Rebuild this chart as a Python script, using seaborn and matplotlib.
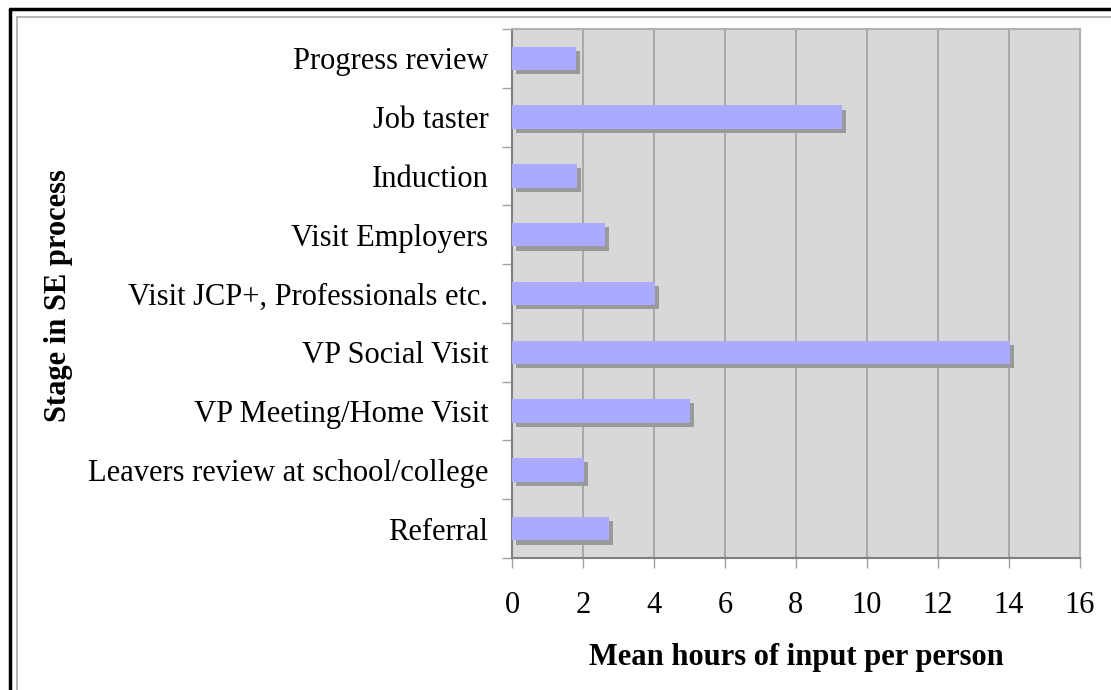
import pandas as pd
import matplotlib
matplotlib.use("Agg")
import matplotlib.pyplot as plt
import matplotlib.patheffects as pe
from matplotlib.lines import Line2D
import seaborn as sns

# Data
stages = [
    "Progress review",
    "Job taster",
    "Induction",
    "Visit Employers",
    "Visit JCP+, Professionals etc.",
    "VP Social Visit",
    "VP Meeting/Home Visit",
    "Leavers review at school/college",
    "Referral",
]
mean_hours = [1.8, 9.3, 1.82, 2.62, 4.03, 14.02, 5.02, 2.03, 2.72]
x_ticks = [0, 2, 4, 6, 8, 10, 12, 14, 16]

df = pd.DataFrame({"Stage": stages, "Hours": mean_hours})

sns.set_theme(style="white")
plt.rcParams["font.family"] = ["Liberation Serif", "DejaVu Serif"]
plt.rcParams["text.color"] = "black"
plt.rcParams["axes.labelcolor"] = "black"
plt.rcParams["xtick.color"] = "black"
plt.rcParams["ytick.color"] = "black"

fig = plt.figure(figsize=(11.11, 6.9), dpi=100)
ax = fig.add_axes([0.4608, 0.1913, 0.5113, 0.7667])
ax.set_facecolor("#d8d8d8")

sns.barplot(data=df, x="Hours", y="Stage", orient="h", color="#aaaaff",
            saturation=1, width=0.4, ax=ax, zorder=3)

# drop shadow on bars
for p in ax.patches:
    p.set_linewidth(0)
    p.set_path_effects([pe.SimplePatchShadow(offset=(3, -3), shadow_rgbFace="#9a9a9a", alpha=1),
                        pe.Normal()])

ax.set_xlim(0, 16)
ax.set_ylim(len(stages) - 0.5, -0.5)
ax.set_xticks(x_ticks)
ax.set_xticklabels([str(t) for t in x_ticks], fontsize=22)
ax.set_yticks(range(len(stages)))
ax.set_yticklabels(stages, fontsize=22)
ax.set_yticks([i - 0.5 for i in range(len(stages) + 1)], minor=True)
ax.tick_params(axis="y", which="major", left=True, length=0, pad=17)
ax.tick_params(axis="y", which="minor", left=True, length=7, width=1,
               color="#a0a0a0", direction="out")
ax.tick_params(axis="x", which="major", bottom=True, length=7, width=1,
               color="#a0a0a0", pad=17, direction="out")

ax.grid(axis="x", color="#a0a0a0", linewidth=1.2, zorder=0)
ax.set_axisbelow(True)
for side in ["top", "right"]:
    ax.spines[side].set_color("#b0b0b0")
    ax.spines[side].set_linewidth(1.5)
for side in ["left", "bottom"]:
    ax.spines[side].set_color("#808080")
    ax.spines[side].set_linewidth(1.5)

ax.set_xlabel("Mean hours of input per person", fontsize=22, fontweight="bold",
              labelpad=16, color="black")
ax.set_ylabel("")
fig.text(0.053, 0.572, "Stage in SE process", rotation=90, fontsize=22,
         fontweight="bold", ha="center", va="center", color="black")

# page frame (top and left visible)
fig.add_artist(Line2D([9.5 / 1111, 9.5 / 1111], [0, 1 - 9 / 690], color="black", linewidth=2.5,
                      transform=fig.transFigure))
fig.add_artist(Line2D([9.5 / 1111, 1], [1 - 9 / 690, 1 - 9 / 690], color="black", linewidth=2.5,
                      transform=fig.transFigure))
fig.add_artist(Line2D([17 / 1111, 17 / 1111], [0, 1 - 16.5 / 690], color="#a8a8a8", linewidth=1.2,
                      transform=fig.transFigure))
fig.add_artist(Line2D([17 / 1111, 1], [1 - 16.5 / 690, 1 - 16.5 / 690], color="#a8a8a8", linewidth=1.2,
                      transform=fig.transFigure))

fig.savefig("out.png", dpi=100, facecolor="white")
